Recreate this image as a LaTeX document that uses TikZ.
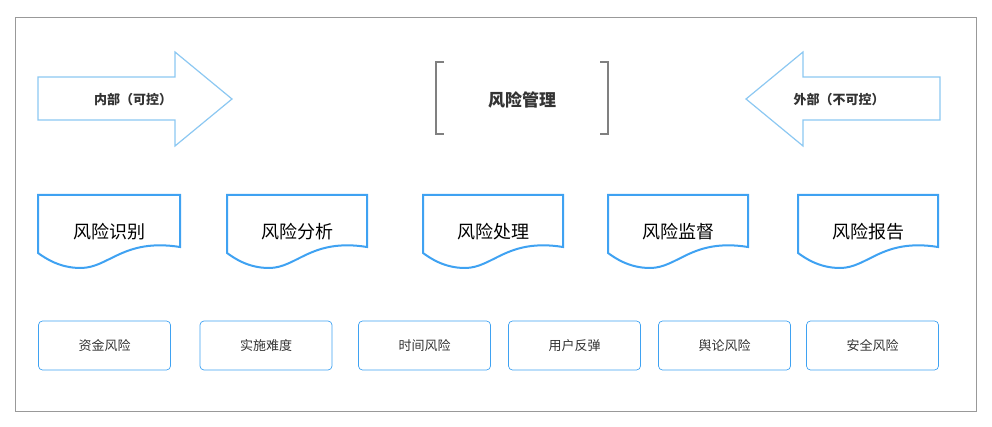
\documentclass[tikz,border=0pt]{standalone}
\usepackage{fontspec}
\setmainfont{Noto Sans CJK SC}
\usetikzlibrary{shapes,arrows}
\definecolor{lightblue}{HTML}{8CC8F2}
\definecolor{docblue}{HTML}{3FA2F2}
\tikzstyle{boundingbox} = [draw=gray!80, line width=0.8pt]
\tikzstyle{bigarrow} = [draw=lightblue, line width=1.2pt, fill=white, line join=miter]
\tikzstyle{docbox} = [draw=docblue, line width=2pt, fill=white]
\tikzstyle{riskbox} = [draw=docblue, line width=0.7pt, rounded corners=4pt, minimum width=132pt, minimum height=49pt, font=\fontsize{13pt}{15pt}\selectfont, text=black!80]
\tikzstyle{bracket} = [draw=gray, line width=2pt]

\begin{document}
\begin{tikzpicture}[x=1pt, y=-1pt]
\useasboundingbox (0, 0) rectangle (992, 427);
\draw[boundingbox] (15, 17) rectangle (976, 411);

%% arrows
\draw[bigarrow] (38, 77) -- (175, 77) -- (175, 52) -- (232, 99) -- (175, 146) -- (175, 120) -- (38, 120) -- cycle;
\node[font=\bfseries\fontsize{13pt}{15pt}\selectfont, text=black!80] (inner) at (133, 100) {内部（可控）};
\draw[bigarrow] (940, 77) -- (803, 77) -- (803, 52) -- (746, 99) -- (803, 146) -- (803, 120) -- (940, 120) -- cycle;
\node[font=\bfseries\fontsize{13pt}{15pt}\selectfont, text=black!80] (outer) at (839, 100) {外部（不可控）};

%% title
\draw[bracket] (444, 62) -- (436, 62) -- (436, 134) -- (444, 134);
\draw[bracket] (600, 62) -- (608, 62) -- (608, 134) -- (600, 134);
\node[font=\bfseries\fontsize{17pt}{20pt}\selectfont, text=black!80] (title) at (522, 100) {风险管理};

%% steps
\foreach \x/\w/\t [count=\i] in {38/142/风险识别, 227/140/风险分析, 423/140/风险处理, 608/140/风险监督, 798/140/风险报告} {
  \draw[docbox] (\x, 195) -- (\x+\w, 195) -- (\x+\w, 247)
    .. controls (\x+0.6*\w, 238) and (\x+0.5*\w, 268) .. (\x+0.3*\w, 268)
    .. controls (\x+0.15*\w, 268) and (\x+0.05*\w, 258) .. (\x, 253) -- cycle;
  \node[font=\fontsize{18pt}{21pt}\selectfont] (step\i) at (\x+0.5*\w, 232) {\t};
}

%% risks
\foreach \x/\t [count=\i] in {104.5/资金风险, 266/实施难度, 424.5/时间风险, 574.5/用户反弹, 724.5/舆论风险, 872.5/安全风险} {
  \node[riskbox] (risk\i) at (\x, 345.5) {\t};
}
\end{tikzpicture}
\end{document}
